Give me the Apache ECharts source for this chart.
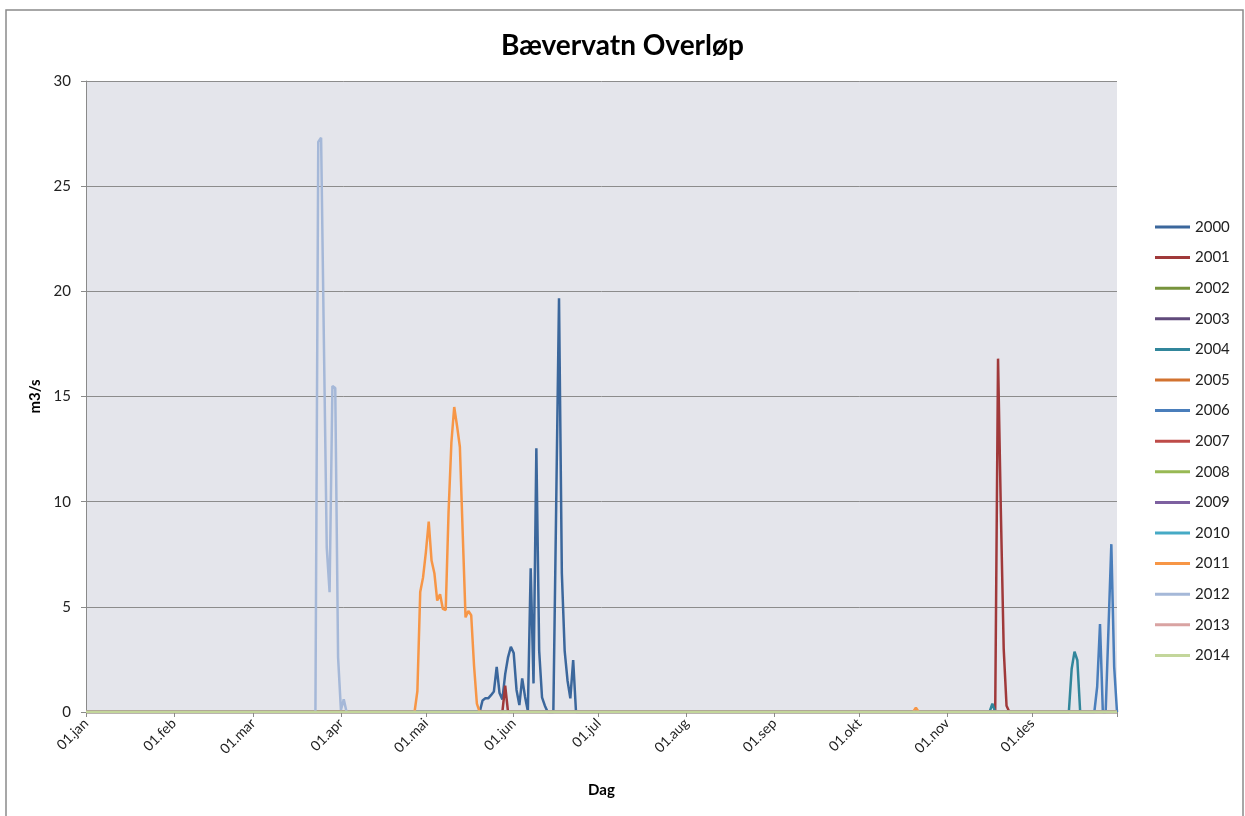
<!DOCTYPE html>
<html>
<head>
<meta charset="utf-8">
<title>Bævervatn Overløp</title>
<script src="https://cdn.jsdelivr.net/npm/echarts@6/dist/echarts.min.js"></script>
<style>
  html, body { margin: 0; padding: 0; background: #fff; }
  #chart { width: 1245px; height: 816px; }
</style>
</head>
<body>
<div id="chart"></div>
<script>
// kategorier: dagene i året, merket med første dag i hver måned
var monthNames = ['jan', 'feb', 'mar', 'apr', 'mai', 'jun', 'jul', 'aug', 'sep', 'okt', 'nov', 'des'];
var monthLengths = [31, 28, 31, 30, 31, 30, 31, 31, 30, 31, 30, 31];
var yTicks = [0, 5, 10, 15, 20, 25, 30];

var years = ['2000', '2001', '2002', '2003', '2004', '2005', '2006', '2007',
             '2008', '2009', '2010', '2011', '2012', '2013', '2014'];
var colors = ['#3B679C', '#A0393A', '#77933C', '#604A7B', '#31869B', '#D2722F', '#4A7EBB', '#BE4B48',
              '#98B954', '#7D60A0', '#46AAC5', '#F79646', '#A5B8D8', '#D9A3A2', '#C3D69B'];

// avløp m3/s: [første dag (0 = 01.jan), verdier]; resten av året er 0
var runs2000 = [[139, [0, 0.55, 0.65, 0.65, 0.8, 0.97, 2.15, 0.9, 0.6, 1.8, 2.6, 3.1, 2.8, 1.05, 0.33,
                      1.6, 0.73, 0.05, 6.83, 1.36, 12.54, 2.9, 0.7, 0.3, 0, 0, 0, 9.8, 19.67, 6.6,
                      2.9, 1.5, 0.65, 2.47, 0]]];
var runs2001 = [[147, [0, 1.25, 0]], [321, [0, 16.8, 9.5, 3.0, 0.3, 0]]];
var runs2002 = [];
var runs2003 = [];
var runs2004 = [[319, [0, 0.4, 0]], [347, [0, 2.06, 2.87, 2.46, 0]]];
var runs2005 = [];
var runs2006 = [[356, [0, 1.2, 4.18, 0, 0, 4.0, 7.98, 2.15, 0]]];
var runs2007 = [];
var runs2008 = [];
var runs2009 = [];
var runs2010 = [];
var runs2011 = [[116, [0, 1.0, 5.7, 6.4, 7.6, 9.05, 7.2, 6.6, 5.3, 5.6, 4.9, 4.85, 9.5, 12.8,
                      14.5, 13.6, 12.6, 8.5, 4.5, 4.8, 4.6, 2.2, 0.4, 0]], [292, [0, 0.2, 0]]];
var runs2012 = [[81, [0, 27.1, 27.3, 17.5, 7.8, 5.7, 15.5, 15.4, 2.6, 0.1, 0.6, 0]]];
var runs2013 = [];
var runs2014 = [];

var allRuns = [runs2000, runs2001, runs2002, runs2003, runs2004, runs2005, runs2006, runs2007,
               runs2008, runs2009, runs2010, runs2011, runs2012, runs2013, runs2014];

var days = [];
var monthStart = {};
monthLengths.forEach(function (len, m) {
  monthStart[days.length] = true;
  for (var d = 1; d <= len; d++) {
    days.push((d < 10 ? '0' + d : '' + d) + '.' + monthNames[m]);
  }
});
var lastDay = days.length - 1;

function fullYear(runs) {
  var arr = days.map(function () { return 0; });
  runs.forEach(function (r) {
    r[1].forEach(function (v, i) { arr[r[0] + i] = v; });
  });
  return arr;
}

var series = years.map(function (y, i) {
  return {
    name: y,
    type: 'line',
    data: fullYear(allRuns[i]),
    symbol: 'none',
    color: colors[i],
    lineStyle: { width: 2.5, color: colors[i] },
    animation: false
  };
});

var chart = echarts.init(document.getElementById('chart'));
chart.setOption({
  backgroundColor: '#fff',
  textStyle: { fontFamily: 'Lato' },
  title: {
    text: 'Bævervatn Overløp',
    left: 'center',
    top: 27,
    textStyle: { fontSize: 28, fontWeight: 'bold', color: '#000', fontFamily: 'Lato' }
  },
  legend: {
    orient: 'vertical',
    left: 1150,
    top: 214,
    icon: 'rect',
    itemWidth: 35,
    itemHeight: 3,
    itemGap: 14.6,
    textStyle: { fontSize: 15, lineHeight: 16, color: '#222', fontFamily: 'Lato' },
    data: years
  },
  grid: {
    left: 86, right: 128, top: 81, bottom: 104,
    show: true, backgroundColor: '#E4E5EB', borderWidth: 0
  },
  xAxis: {
    type: 'category',
    data: days,
    boundaryGap: false,
    name: 'Dag',
    nameLocation: 'middle',
    nameGap: 71,
    nameTextStyle: { fontSize: 15, fontWeight: 'bold', color: '#000' },
    axisLine: { lineStyle: { color: '#8A8A8A', width: 1 } },
    axisTick: {
      length: 5,
      lineStyle: { color: '#8A8A8A' },
      interval: function (idx) { return monthStart[idx] === true || idx === lastDay; }
    },
    axisLabel: {
      rotate: 45,
      margin: 9,
      fontSize: 14,
      color: '#222',
      interval: function (idx) { return monthStart[idx] === true; }
    },
    splitLine: { show: false }
  },
  yAxis: {
    type: 'value',
    min: yTicks[0],
    max: yTicks[yTicks.length - 1],
    interval: 5,
    name: 'm3/s',
    nameLocation: 'middle',
    nameGap: 42,
    nameTextStyle: { fontSize: 15, fontWeight: 'bold', color: '#000' },
    axisLine: { show: true, lineStyle: { color: '#8A8A8A', width: 1 } },
    axisTick: { show: true, length: 5, lineStyle: { color: '#8A8A8A' } },
    axisLabel: { fontSize: 15, color: '#222', margin: 15 },
    splitLine: { lineStyle: { color: '#8C8C8C', width: 1 } }
  },
  graphic: [{
    type: 'rect',
    silent: true,
    shape: { x: 6, y: 10, width: 1237, height: 830 },
    style: { fill: 'none', stroke: '#8A8A8A', lineWidth: 1.5 }
  }],
  series: series
});
</script>
</body>
</html>
